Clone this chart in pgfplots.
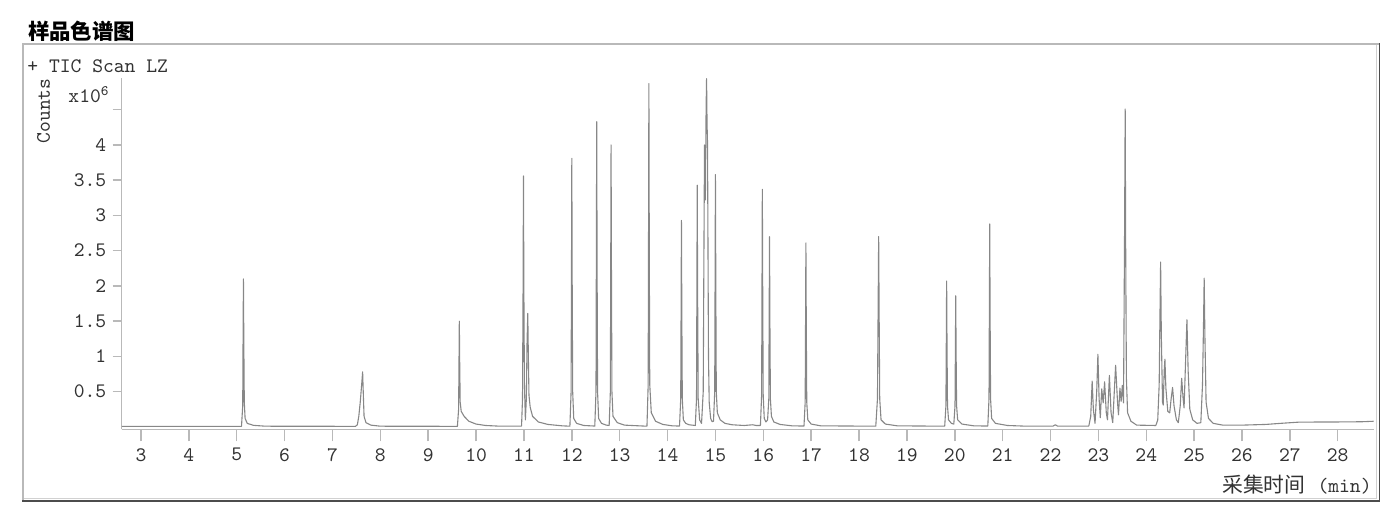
\documentclass[border=0pt]{standalone}
\usepackage{pgfplots}
\pgfplotsset{compat=1.18}
\usepackage{pgfplotstable}
\usepackage{fontspec}
\newfontfamily\cjk{Noto Sans CJK SC}
\definecolor{trace}{RGB}{135,135,135}
\definecolor{axgray}{RGB}{185,185,185}
\definecolor{txt}{RGB}{50,50,50}
\newcommand{\mono}{\fontsize{10.3}{12}\selectfont\ttfamily}

\pgfplotstableread{
t h
2.60 0.008
5.10 0.008
5.125 0.30
5.133 1.30
5.14 2.10
5.148 1.20
5.158 0.35
5.175 0.12
5.22 0.05
5.35 0.022
5.6 0.01
7.48 0.008
7.52 0.03
7.55 0.15
7.58 0.35
7.61 0.6
7.63 0.78
7.645 0.45
7.66 0.15
7.70 0.06
7.80 0.025
8.0 0.01
9.61 0.008
9.635 0.25
9.643 0.90
9.65 1.50
9.658 0.90
9.668 0.35
9.69 0.22
9.75 0.15
9.85 0.08
10.0 0.04
10.2 0.02
10.5 0.01
10.95 0.012
10.97 0.40
10.982 2.00
10.99 3.56
10.998 2.00
11.01 0.60
11.03 0.10
11.05 0.40
11.065 1.20
11.08 1.61
11.092 1.00
11.105 0.45
11.13 0.28
11.18 0.15
11.30 0.07
11.50 0.035
11.80 0.015
11.96 0.01
11.985 0.50
11.993 2.20
12.00 3.81
12.008 2.00
12.018 0.50
12.04 0.12
12.10 0.05
12.25 0.02
12.48 0.012
12.505 0.50
12.513 2.50
12.52 4.33
12.528 2.30
12.538 0.50
12.56 0.12
12.62 0.05
12.72 0.025
12.78 0.02
12.805 0.50
12.813 2.30
12.82 4.00
12.828 2.20
12.838 0.50
12.86 0.15
12.95 0.06
13.10 0.025
13.50 0.012
13.57 0.012
13.595 0.60
13.603 2.80
13.61 4.87
13.618 2.60
13.628 0.60
13.66 0.20
13.75 0.08
13.90 0.035
14.10 0.015
14.25 0.012
14.275 0.40
14.283 1.70
14.29 2.93
14.298 1.60
14.308 0.40
14.33 0.10
14.38 0.05
14.45 0.03
14.58 0.02
14.605 0.40
14.613 2.00
14.62 3.43
14.628 1.90
14.64 0.40
14.67 0.10
14.71 0.05
14.745 0.50
14.76 2.50
14.772 4.00
14.79 3.22
14.805 4.50
14.815 4.94
14.825 4.30
14.835 4.02
14.845 2.50
14.855 1.00
14.87 0.35
14.90 0.12
14.93 0.075
14.96 0.08
14.985 0.50
14.993 2.10
15.00 3.58
15.008 2.00
15.018 0.50
15.04 0.20
15.10 0.10
15.20 0.05
15.35 0.03
15.60 0.02
15.78 0.03
15.85 0.02
15.94 0.02
15.965 0.45
15.973 2.00
15.98 3.37
15.988 1.90
15.998 0.45
16.02 0.12
16.055 0.07
16.09 0.10
16.115 0.40
16.123 1.60
16.13 2.70
16.138 1.50
16.148 0.40
16.17 0.15
16.22 0.07
16.35 0.035
16.60 0.015
16.85 0.012
16.875 0.35
16.883 1.50
16.89 2.61
16.898 1.45
16.908 0.35
16.93 0.10
17.00 0.04
17.20 0.015
18.35 0.01
18.385 0.40
18.398 1.60
18.41 2.70
18.42 1.60
18.432 0.40
18.46 0.10
18.55 0.04
18.80 0.015
19.79 0.01
19.815 0.30
19.823 1.20
19.83 2.07
19.838 1.15
19.848 0.30
19.87 0.10
19.93 0.05
19.98 0.04
20.005 0.30
20.013 1.10
20.02 1.86
20.028 1.05
20.038 0.30
20.06 0.10
20.15 0.04
20.40 0.015
20.69 0.012
20.715 0.40
20.723 1.70
20.73 2.88
20.738 1.60
20.748 0.40
20.77 0.12
20.85 0.05
21.10 0.02
21.50 0.01
22.05 0.01
22.10 0.03
22.15 0.01
22.80 0.012
22.84 0.15
22.87 0.65
22.895 0.25
22.93 0.05
22.965 0.50
22.99 1.03
23.015 0.40
23.04 0.13
23.07 0.54
23.10 0.34
23.13 0.64
23.165 0.20
23.19 0.10
23.23 0.73
23.265 0.20
23.30 0.06
23.36 0.875
23.40 0.35
23.42 0.17
23.45 0.55
23.475 0.36
23.50 0.59
23.525 0.34
23.545 2.50
23.56 4.51
23.57 2.60
23.585 0.70
23.61 0.20
23.68 0.08
23.80 0.025
24.20 0.02
24.24 0.10
24.27 0.60
24.285 1.50
24.30 2.34
24.315 1.30
24.34 0.35
24.355 0.31
24.375 0.80
24.39 0.96
24.41 0.55
24.45 0.22
24.49 0.20
24.52 0.40
24.55 0.56
24.58 0.30
24.63 0.10
24.67 0.06
24.71 0.30
24.74 0.69
24.77 0.40
24.79 0.27
24.82 0.90
24.85 1.52
24.875 0.80
24.91 0.25
24.97 0.10
25.06 0.05
25.14 0.06
25.175 0.60
25.195 1.40
25.21 2.11
25.225 1.30
25.25 0.35
25.30 0.12
25.40 0.05
25.60 0.025
26.00 0.025
26.50 0.035
26.80 0.05
27.20 0.068
28.00 0.07
28.50 0.073
28.75 0.08
}\tic

\begin{document}
\begin{tikzpicture}
\useasboundingbox (0,0) rectangle (698pt,256pt);
% outer frame
\draw[color=axgray, line width=1pt] (11.35pt,5.65pt) -- (11.35pt,234pt) -- (689.5pt,234pt);
\draw[color=black!18, line width=0.6pt] (688.3pt,233.5pt) -- (688.3pt,6.8pt) -- (11.8pt,6.8pt);
\draw[color=black!70, line width=0.6pt] (689.7pt,234.4pt) -- (689.7pt,5.5pt) -- (10.9pt,5.5pt);
% title
\node[inner sep=0, anchor=center] at (40.8pt,240.2pt) {\fontsize{10.7}{12}\selectfont\cjk\bfseries 样品色谱图};

\begin{axis}[
  at={(60.85pt,41.35pt)}, anchor=south west,
  scale only axis, width=626.15pt, height=175.65pt,
  xmin=2.597, xmax=28.758, ymin=-0.034, ymax=4.95,
  axis lines=left,
  axis line style={axgray, line width=0.75pt, -},
  tick align=outside, major tick length=6pt,
  tick style={axgray, line width=0.75pt},
  ytick style={/pgfplots/major tick length=4.5pt},
  xtick={3,...,28},
  ytick={0.5,1,...,4},
  extra y ticks={4.5}, extra y tick labels={},
  extra y tick style={grid=none},
  minor tick num=0,
  ticklabel style={font=\mono, text=txt},
  yticklabel style={inner sep=1.5pt},
  /pgf/number format/assume math mode=true,
]
\addplot[trace, line width=0.55pt, line join=round] table[x=t, y=h] {\tic};
\end{axis}

\node[font=\mono, text=txt, anchor=base west, inner sep=0] at (13.5pt,219.75pt) {+ TIC Scan LZ};
\node[font=\mono, text=txt, rotate=90, anchor=center, inner sep=0] at (21.75pt,200.5pt) {Counts};
\node[font=\mono, text=txt, anchor=base east, inner sep=0] at (55pt,204.5pt) {x10\textsuperscript{6}};
\node[text=txt, anchor=base east, inner sep=0] at (686pt,9.5pt) {\fontsize{10.4}{12}\selectfont\cjk 采集时间\hspace{6pt}\mono(min)};
\end{tikzpicture}
\end{document}
